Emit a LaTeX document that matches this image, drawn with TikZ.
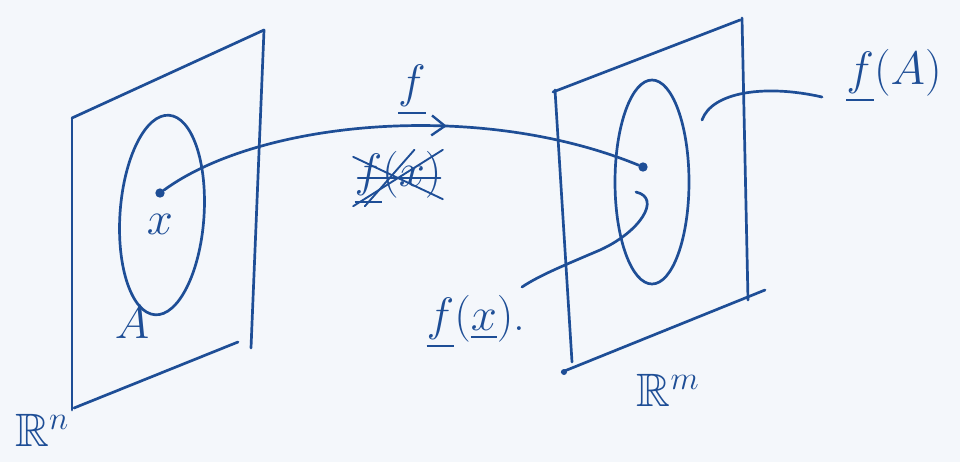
\RequirePackage{fix-cm}
\documentclass[tikz,border=0pt]{standalone}
\usepackage{amsmath,amssymb}
\usetikzlibrary{arrows.meta, decorations.markings}
\definecolor{penblue}{RGB}{30,78,150}
\definecolor{paper}{RGB}{244,247,251}

\begin{document}
\begin{tikzpicture}[x=0.03cm, y=-0.03cm,
    pen/.style={draw=penblue, line width=2.3pt, line cap=round, line join=round},
    thinpen/.style={draw=penblue, line width=1.6pt, line cap=round},
    pointdot/.style={circle, fill=penblue, inner sep=0pt, minimum size=8pt},
    hand/.style={text=penblue, font=\fontsize{40}{46}\selectfont, inner sep=1pt},
    midarrow/.style={postaction={decorate}, decoration={markings,
        mark=at position 0.6 with {\arrow[penblue, line width=2pt]{Straight Barb[length=4mm,width=6mm]}}}}
]
\fill[paper] (0,0) rectangle (960,462);

% domain plane R^n
\draw[pen] (72,118) -- (264,30);
\draw[pen] (72,118) -- (72,410);
\draw[pen] (264,30) -- (251,348);
\draw[pen] (74,408) -- (238,342);
\draw[pen, rotate around={-4:(162,215)}] (162,215) ellipse [x radius=42, y radius=100];

% target plane R^m
\draw[pen] (553,92) -- (740,20);
\draw[pen] (555,90) -- (572,362);
\draw[pen] (742,18) -- (748,300);
\draw[pen] (562,372) -- (765,290);
\fill[penblue] (564,372) circle [radius=3];
\draw[pen] (652,182) ellipse [x radius=37, y radius=102];

% points and labels
\node[pointdot] (x)  at (160,193) {};
\node[pointdot] (fx) at (643,167) {};
\node[hand] (xlab)   at (160,224) {$x$};
\node[hand] (Alab)   at (132,322) {$A$};
\node[hand] (Rn)     at (42,430)  {$\mathbb{R}^{n}$};
\node[hand] (Rm)     at (668,390) {$\mathbb{R}^{m}$};
\node[hand] (flab)   at (412,90)  {$\underline{f}$};
\node[hand] (struck) at (398,178) {$\underline{f}(x)$};
\node[hand] (fxlab)  at (476,322) {$\underline{f}(\underline{x})$.};
\node[hand] (fAlab)  at (894,76)  {$\underline{f}(A)$};

% the map
\draw[pen, midarrow] (x) .. controls (260,120) and (480,100) .. (fx);

% scribbled-out text
\draw[thinpen] (struck.south west) -- (struck.north east);
\draw[thinpen] ([xshift=4pt]struck.west) -- ([xshift=-2pt]struck.east);
\draw[thinpen] ([yshift=-6pt]struck.north west) -- ([yshift=6pt]struck.south east);
\draw[thinpen] ([xshift=10pt]struck.south west) -- ([xshift=14pt]struck.north);

% leaders
\coordinate (fxhook) at (636,192);
\coordinate (fxend)  at (522,287);
\draw[pen] (fxhook) .. controls (662,198) and (640,232) .. (600,250)
    .. controls (565,265) and (540,275) .. (fxend);
\coordinate (fAstart) at (702,120);
\coordinate (fAend)   at (822,97);
\draw[pen] (fAstart) .. controls (712,92) and (765,84) .. (fAend);
\end{tikzpicture}
\end{document}
